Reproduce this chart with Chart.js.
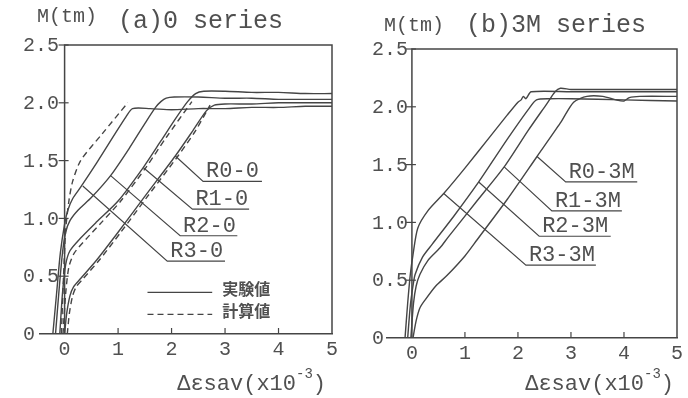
<!DOCTYPE html>
<html>
<head>
<meta charset="utf-8">
<script src="https://cdn.jsdelivr.net/npm/chart.js@4.4.1/dist/chart.umd.min.js"></script>
<style>
  html, body { margin: 0; padding: 0; background: #fff; }
  #wrap { display: flex; width: 688px; height: 398px; }
  .panel { width: 344px; height: 398px; }
</style>
</head>
<body>
<div id="wrap">
  <div class="panel"><canvas id="chartA" width="344" height="398"></canvas></div>
  <div class="panel"><canvas id="chartB" width="344" height="398"></canvas></div>
</div>
<script>
// axis ticks
const xTicks = [0, 1, 2, 3, 4, 5];
const yTicks = [0, 0.5, 1.0, 1.5, 2.0, 2.5];
const yTickLabels = ['0', '0.5', '1.0', '1.5', '2.0', '2.5'];

// (a) 0 series - measured (solid)
const r0_0_x = [0.0, 0.04, 0.1, 0.17, 0.3, 0.6, 1.0, 1.5, 2.07, 2.4, 2.65, 2.8, 3.0, 3.5, 4.0, 4.5, 5.0];
const r0_0_y = [0, 0.18, 0.33, 0.41, 0.48, 0.64, 0.88, 1.19, 1.54, 1.76, 1.93, 1.98, 1.99, 1.99, 2.0, 2.0, 2.0];
const r1_0_x = [-0.09, -0.04, 0.02, 0.1, 0.3, 0.6, 1.0, 1.47, 1.8, 2.1, 2.3, 2.45, 2.6, 3.0, 3.5, 4.0, 4.5, 5.0];
const r1_0_y = [0, 0.35, 0.6, 0.72, 0.83, 0.97, 1.15, 1.44, 1.67, 1.88, 2.01, 2.08, 2.1, 2.1, 2.09, 2.09, 2.08, 2.08];
const r2_0_x = [-0.17, -0.1, -0.04, 0.02, 0.1, 0.25, 0.5, 0.86, 1.2, 1.5, 1.7, 1.8, 1.9, 2.05, 2.5, 3.0, 3.5, 4.0, 4.5, 5.0];
const r2_0_y = [0, 0.4, 0.7, 0.88, 0.98, 1.07, 1.18, 1.37, 1.6, 1.82, 1.96, 2.01, 2.04, 2.05, 2.05, 2.04, 2.04, 2.03, 2.03, 2.03];
const r3_0_x = [-0.22, -0.15, -0.08, 0.0, 0.06, 0.15, 0.3, 0.6, 0.9, 1.15, 1.27, 1.6, 2.0, 2.5, 3.0, 3.5, 4.0, 4.5, 5.0];
const r3_0_y = [0, 0.35, 0.7, 0.95, 1.07, 1.17, 1.27, 1.48, 1.7, 1.88, 1.95, 1.95, 1.94, 1.95, 1.95, 1.96, 1.96, 1.97, 1.97];

// (a) 0 series - calculated (dashed)
const c0_0_x = [0.05, 0.09, 0.15, 0.22, 0.35, 0.65, 1.05, 1.55, 2.12, 2.45, 2.72];
const c0_0_y = [0, 0.18, 0.33, 0.41, 0.48, 0.64, 0.88, 1.19, 1.54, 1.76, 1.98];
const c1_0_x = [-0.03, 0.02, 0.08, 0.18, 0.4, 0.7, 1.05, 1.52, 1.9, 2.38];
const c1_0_y = [0, 0.35, 0.58, 0.7, 0.82, 0.97, 1.15, 1.44, 1.7, 2.01];
const c3_0_x = [-0.06, -0.02, 0.02, 0.08, 0.15, 0.3, 0.7, 1.18];
const c3_0_y = [0, 0.5, 0.9, 1.15, 1.32, 1.5, 1.73, 2.0];

// (b) 3M series - measured
const r0_3m_x = [0.02, 0.08, 0.15, 0.25, 0.45, 0.66, 1.0, 1.23, 1.8, 2.36, 2.8, 3.05, 3.3, 3.6, 3.85, 4.0, 4.1, 4.3, 5.0];
const r0_3m_y = [0, 0.15, 0.26, 0.33, 0.45, 0.54, 0.71, 0.85, 1.2, 1.57, 1.86, 2.04, 2.09, 2.09, 2.06, 2.05, 2.08, 2.09, 2.09];
const r1_3m_x = [-0.02, 0.03, 0.08, 0.15, 0.3, 0.53, 0.68, 1.2, 1.74, 2.2, 2.55, 2.7, 2.8, 3.0, 4.0, 5.0];
const r1_3m_y = [0, 0.3, 0.45, 0.55, 0.67, 0.78, 0.87, 1.17, 1.48, 1.8, 2.03, 2.13, 2.16, 2.15, 2.15, 2.15];
const r2_3m_x = [-0.08, -0.03, 0.02, 0.06, 0.2, 0.38, 0.8, 1.26, 1.8, 2.2, 2.35, 2.6, 3.0, 4.0, 5.0];
const r2_3m_y = [0, 0.28, 0.45, 0.55, 0.7, 0.81, 1.06, 1.35, 1.72, 1.98, 2.06, 2.07, 2.07, 2.06, 2.05];
const r3_3m_x = [-0.13, -0.08, -0.03, 0.02, 0.11, 0.3, 0.6, 1.0, 1.47, 1.8, 2.0, 2.06, 2.1, 2.15, 2.25, 3.0, 4.0, 5.0];
const r3_3m_y = [0, 0.3, 0.55, 0.72, 0.95, 1.1, 1.25, 1.47, 1.74, 1.93, 2.04, 2.06, 2.09, 2.07, 2.13, 2.13, 2.13, 2.13];

const INK = '#454545';
const TXT = '#505050';
const MONO = "'Liberation Mono', 'DejaVu Sans Mono', monospace";

function pts(xs, ys) {
  return xs.map((v, i) => ({ x: v, y: ys[i] }));
}

// draws the frame (y axis sits at x = 0), ticks, curve labels, legend and titles
const decorPlugin = {
  id: 'decor',
  afterDraw(chart, args, o) {
    const { ctx } = chart;
    const x = chart.scales.x, y = chart.scales.y;
    const px = v => x.getPixelForValue(v);
    const py = v => y.getPixelForValue(v);
    ctx.save();
    ctx.strokeStyle = INK;
    ctx.lineWidth = 1.5;
    ctx.beginPath();
    ctx.moveTo(px(0), py(0));
    ctx.lineTo(px(0), py(2.5));
    ctx.lineTo(px(5), py(2.5));
    ctx.lineTo(px(5), py(0));
    ctx.stroke();

    ctx.lineWidth = 1.2;
    xTicks.forEach(v => {
      if (v > 0 && v < 5) {
        ctx.beginPath();
        ctx.moveTo(px(v), py(0));
        ctx.lineTo(px(v), py(0) - 6);
        ctx.stroke();
      }
    });
    yTicks.forEach(v => {
      if (v > 0) {
        ctx.beginPath();
        ctx.moveTo(px(0) - 6, py(v));
        ctx.lineTo(px(0) + 4, py(v));
        ctx.stroke();
      }
    });

    // y tick labels, left aligned like the original
    ctx.fillStyle = TXT;
    ctx.font = '20px ' + MONO;
    ctx.textAlign = 'left';
    ctx.textBaseline = 'middle';
    yTicks.forEach((v, i) => ctx.fillText(yTickLabels[i], o.labelX, py(v) + 1));

    // curve labels with leader lines
    ctx.font = '22px ' + MONO;
    ctx.textBaseline = 'alphabetic';
    o.tags.forEach(t => {
      ctx.beginPath();
      ctx.moveTo(px(t.a[0]), py(t.a[1]));
      ctx.lineTo(px(t.b[0]), py(t.b[1]));
      ctx.lineTo(px(t.end), py(t.b[1]));
      ctx.stroke();
      ctx.fillText(t.text, px(t.b[0]) + 3, py(t.b[1]) - 4);
    });

    // legend inside plot
    if (o.legend) {
      const L = o.legend;
      ctx.lineWidth = 1.4;
      L.rows.forEach(r => {
        ctx.setLineDash(r.dash ? [6, 4] : []);
        ctx.beginPath();
        ctx.moveTo(px(L.x0), py(r.y));
        ctx.lineTo(px(L.x1), py(r.y));
        ctx.stroke();
        ctx.setLineDash([]);
        ctx.font = 'bold 16px "Noto Sans CJK JP"';
        ctx.textBaseline = 'middle';
        ctx.fillText(r.text, px(L.tx), py(r.y) - 3);
      });
    }

    // titles
    ctx.textBaseline = 'alphabetic';
    ctx.font = '20px ' + MONO;
    ctx.fillText('M(tm)', o.unit.x, o.unit.y);
    ctx.font = '25px ' + MONO;
    ctx.fillText(o.title.text, o.title.x, o.title.y);

    // x axis title with superscript
    const main = 'Δεsav(x10', sup = '-3', tail = ')';
    ctx.font = '22px ' + MONO;
    const wMain = ctx.measureText(main).width;
    const wTail = ctx.measureText(tail).width;
    ctx.font = '14px ' + MONO;
    const wSup = ctx.measureText(sup).width;
    let sx = o.xTitle.right - (wMain + wSup + wTail);
    ctx.font = '22px ' + MONO;
    ctx.fillText(main, sx, o.xTitle.y);
    ctx.font = '14px ' + MONO;
    ctx.fillText(sup, sx + wMain, o.xTitle.y - 12);
    ctx.font = '22px ' + MONO;
    ctx.fillText(tail, sx + wMain + wSup, o.xTitle.y);
    ctx.restore();
  }
};

function makeChart(id, series, xMin, pad, decor) {
  const datasets = series.map(s => ({
    data: pts(s.x, s.y),
    borderColor: INK,
    borderWidth: 1.4,
    borderDash: s.dash ? [6, 4] : [],
    pointRadius: 0,
    tension: 0.25,
    fill: false
  }));
  return new Chart(document.getElementById(id), {
    type: 'line',
    data: { datasets },
    plugins: [decorPlugin],
    options: {
      responsive: false,
      animation: false,
      layout: { padding: pad },
      plugins: { legend: { display: false }, tooltip: { enabled: false }, decor },
      scales: {
        x: {
          type: 'linear', min: xMin, max: 5,
          afterBuildTicks: s => { s.ticks = xTicks.map(v => ({ value: v })); },
          ticks: { font: { family: MONO, size: 20 }, color: TXT, padding: 4, maxRotation: 0 },
          grid: { display: false, drawTicks: false },
          border: { color: INK, width: 1.5 }
        },
        y: {
          type: 'linear', min: 0, max: 2.5,
          afterBuildTicks: s => { s.ticks = yTicks.map(v => ({ value: v })); },
          ticks: { display: false },
          grid: { display: false, drawTicks: false },
          border: { display: false }
        }
      }
    }
  });
}

makeChart('chartA', [
  { x: r0_0_x, y: r0_0_y }, { x: r1_0_x, y: r1_0_y },
  { x: r2_0_x, y: r2_0_y }, { x: r3_0_x, y: r3_0_y },
  { x: c0_0_x, y: c0_0_y, dash: true }, { x: c1_0_x, y: c1_0_y, dash: true },
  { x: c3_0_x, y: c3_0_y, dash: true }
], -0.46, { left: 40, right: 12, top: 45, bottom: 32 }, {
  labelX: 23,
  tags: [
    { text: 'R0-0', a: [2.07, 1.54], b: [2.59, 1.32], end: 3.69 },
    { text: 'R1-0', a: [1.47, 1.44], b: [2.39, 1.08], end: 3.45 },
    { text: 'R2-0', a: [0.86, 1.37], b: [2.16, 0.85], end: 3.23 },
    { text: 'R3-0', a: [0.34, 1.28], b: [1.92, 0.63], end: 3.0 }
  ],
  legend: { x0: 1.55, x1: 2.76, tx: 2.95, rows: [
    { text: '実験値', y: 0.36, dash: false },
    { text: '計算値', y: 0.17, dash: true }
  ] },
  unit: { x: 37, y: 22 },
  title: { text: '(a)0 series', x: 118, y: 28 },
  xTitle: { right: 326, y: 390 }
});

makeChart('chartB', [
  { x: r0_3m_x, y: r0_3m_y }, { x: r1_3m_x, y: r1_3m_y },
  { x: r2_3m_x, y: r2_3m_y }, { x: r3_3m_x, y: r3_3m_y }
], -0.47, { left: 43, right: 11, top: 49, bottom: 28 }, {
  labelX: 28,
  tags: [
    { text: 'R0-3M', a: [2.36, 1.57], b: [2.9, 1.35], end: 4.25 },
    { text: 'R1-3M', a: [1.74, 1.48], b: [2.64, 1.10], end: 3.96 },
    { text: 'R2-3M', a: [1.26, 1.35], b: [2.4, 0.88], end: 3.75 },
    { text: 'R3-3M', a: [0.6, 1.25], b: [2.15, 0.63], end: 3.47 }
  ],
  unit: { x: 40, y: 31 },
  title: { text: '(b)3M series', x: 122, y: 32 },
  xTitle: { right: 330, y: 390 }
});
</script>
</body>
</html>
